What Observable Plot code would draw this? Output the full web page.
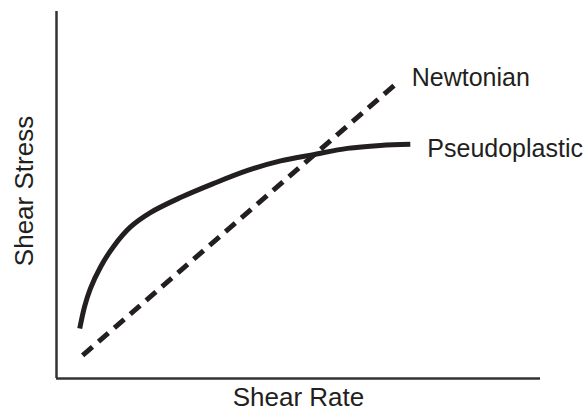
<!DOCTYPE html>
<html>
<head>
<meta charset="utf-8">
<script src="https://cdn.jsdelivr.net/npm/d3@7"></script>
<script src="https://cdn.jsdelivr.net/npm/@observablehq/plot@0.6"></script>
<style>
  html, body { margin: 0; padding: 0; background: #fff; }
</style>
</head>
<body>
<div id="chart"></div>
<script>
// Newtonian fluid (straight line)
const newtonianRate = [5.4, 70.5];
const newtonianStress = [6.3, 80.7];

// Pseudoplastic fluid (shear-thinning curve)
const pseudoRate = [4.8, 5.8, 7.0, 9.1, 11.8, 15.3, 19.4, 25.6, 32.4, 39.5, 46.3, 53.1, 60.1, 66.9, 73.1];
const pseudoStress = [13.6, 19.6, 24.5, 30.4, 36.0, 41.3, 45.2, 49.3, 53.1, 56.7, 59.3, 61.0, 62.7, 63.5, 63.8];

const seriesNames = ["Newtonian", "Pseudoplastic"];
const xLabel = "Shear Rate";
const yLabel = "Shear Stress";

const newtonian = newtonianRate.map((x, i) => ({x, y: newtonianStress[i]}));
const pseudo = pseudoRate.map((x, i) => ({x, y: pseudoStress[i]}));

const ink = "#231f20";
const font = "'Liberation Sans', Arial, sans-serif";

const chart = Plot.plot({
  width: 585,
  height: 410,
  marginLeft: 56,
  marginRight: 45,
  marginTop: 11,
  marginBottom: 32,
  style: {fontFamily: font, fontSize: "25px", color: ink, background: "#fff"},
  x: {domain: [0, 100], axis: null},
  y: {domain: [0, 100], axis: null},
  marks: [
    Plot.ruleX([0], {stroke: "#333", strokeWidth: 2.5}),
    Plot.ruleY([0], {stroke: "#333", strokeWidth: 2.5}),
    Plot.line(newtonian, {x: "x", y: "y", stroke: ink, strokeWidth: 5, strokeDasharray: "13,8", strokeLinecap: "butt"}),
    Plot.line(pseudo, {x: "x", y: "y", stroke: ink, strokeWidth: 5, curve: "catmull-rom", strokeLinecap: "butt"}),
    Plot.text([newtonian[newtonian.length - 1]], {x: "x", y: "y", text: () => seriesNames[0], textAnchor: "start", dx: 14, dy: -4, fill: ink, fontSize: 25}),
    Plot.text([pseudo[pseudo.length - 1]], {x: "x", y: "y", text: () => seriesNames[1], textAnchor: "start", dx: 17, dy: 5, fill: ink, fontSize: 25}),
    Plot.text([xLabel], {frameAnchor: "bottom", textAnchor: "middle", lineAnchor: "bottom", dy: 27, fill: ink, fontSize: 26}),
    Plot.text([yLabel], {frameAnchor: "left", textAnchor: "middle", lineAnchor: "bottom", rotate: -90, dx: -24, dy: -4, fill: ink, fontSize: 26})
  ]
});
document.getElementById("chart").appendChild(chart);
</script>
</body>
</html>
